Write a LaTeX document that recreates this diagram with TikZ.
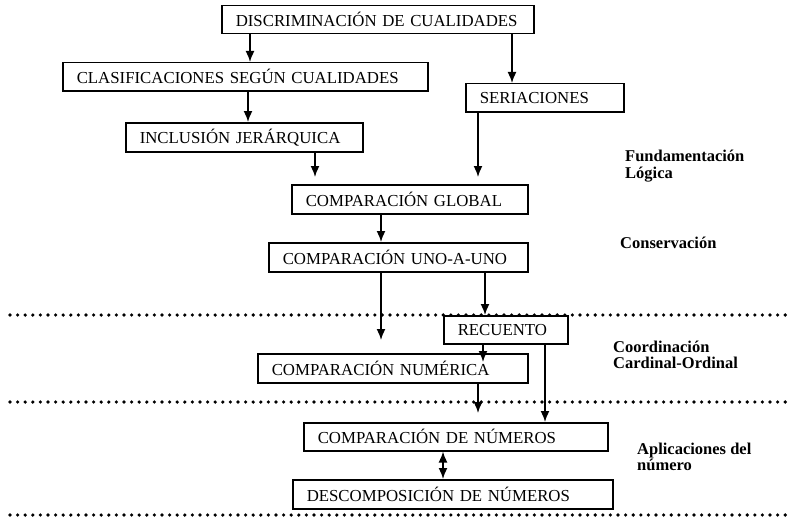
\documentclass[tikz,border=0pt]{standalone}
\usepackage{fontspec}
\setmainfont{Liberation Serif}
\usetikzlibrary{arrows.meta}

\begin{document}
\begin{tikzpicture}[x=1pt,y=-1pt]%
\tikzstyle{caja} = [draw, line width=1.5pt, rectangle, anchor=north west,
    inner xsep=14pt, inner ysep=0pt, align=left, font=\fontsize{16.8}{18}\selectfont]
\tikzstyle{flecha} = [line width=1.6pt, -{Latex[length=11pt,width=9pt]}]
\tikzstyle{nivel} = [anchor=west, inner sep=0pt, align=left,
    font=\fontsize{16.5}{16.5}\selectfont\bfseries]
\tikzstyle{puntos} = [line width=3.6pt, line cap=round, dash pattern=on 0pt off 7.6pt]

\useasboundingbox (0,0) rectangle (790,519);

\node[caja, text width=284pt, minimum height=28pt] (disc) at (221,5) {DISCRIMINACIÓN DE CUALIDADES};
\node[caja, text width=337pt, minimum height=28pt] (clasif) at (62,62) {CLASIFICACIONES SEGÚN CUALIDADES};
\node[caja, text width=130pt, minimum height=28pt] (seri) at (465,83) {SERIACIONES};
\node[caja, text width=209pt, minimum height=29pt] (incl) at (125,122) {INCLUSIÓN JERÁRQUICA};
\node[caja, text width=208pt, minimum height=29pt] (global) at (291,184) {COMPARACIÓN GLOBAL};
\node[caja, text width=231pt, minimum height=29pt] (uno) at (268,242) {COMPARACIÓN UNO-A-UNO};
\node[caja, text width=96pt, minimum height=28pt] (recu) at (443,315) {RECUENTO};
\node[caja, text width=242pt, minimum height=29pt] (numer) at (257,353) {COMPARACIÓN NUMÉRICA};
\node[caja, text width=276pt, minimum height=28pt] (numeros) at (303,422) {COMPARACIÓN DE NÚMEROS};
\node[caja, text width=292pt, minimum height=29pt] (desc) at (292,479) {DESCOMPOSICIÓN DE NÚMEROS};

\node[nivel] (fund) at (625,166) {Fundamentación\\Lógica};
\node[nivel] (cons) at (620,243) {Conservación};
\node[nivel] (coord) at (613,355) {Coordinación\\Cardinal-Ordinal};
\node[nivel] (aplic) at (637,457) {Aplicaciones del\\número};

% flechas
\draw[flecha] ([xshift=29]disc.south west) -- ([xshift=29]disc.south west |- clasif.north);
\draw[flecha] ([xshift=291]disc.south west) -- ([xshift=291]disc.south west |- seri.north);
\draw[flecha] ([xshift=186]clasif.south west) -- ([xshift=186]clasif.south west |- incl.north);
\draw[flecha] ([xshift=190]incl.south west) -- ([xshift=190,yshift=7]incl.south west |- global.north);
\draw[flecha] ([xshift=13]seri.south west) -- ([xshift=13,yshift=7]seri.south west |- global.north);
\draw[flecha] ([xshift=90]global.south west) -- ([xshift=90]global.south west |- uno.north);
\draw[flecha] ([xshift=113]uno.south west) -- ([xshift=113,yshift=13]uno.south west |- numer.north);
\draw[flecha] ([xshift=217]uno.south west) -- ([xshift=217]uno.south west |- recu.north);
\draw[flecha] ([xshift=40]recu.south west) -- ([xshift=40,yshift=-9]recu.south west |- numer.north);
\draw[flecha] ([xshift=102]recu.south west) -- ([xshift=102]recu.south west |- numeros.north);
\draw[flecha] ([xshift=221]numer.south west) -- ([xshift=221,yshift=9]numer.south west |- numeros.north);
\draw[flecha, {Latex[length=11pt,width=9pt]}-{Latex[length=11pt,width=9pt]}] ([xshift=140]numeros.south west) -- ([xshift=140]numeros.south west |- desc.north);

% separadores
\draw[puntos] (10,315) -- (790,315);
\draw[puntos] (10,402) -- (790,402);
\draw[puntos] (10,515) -- (790,515);
\end{tikzpicture}
\end{document}
